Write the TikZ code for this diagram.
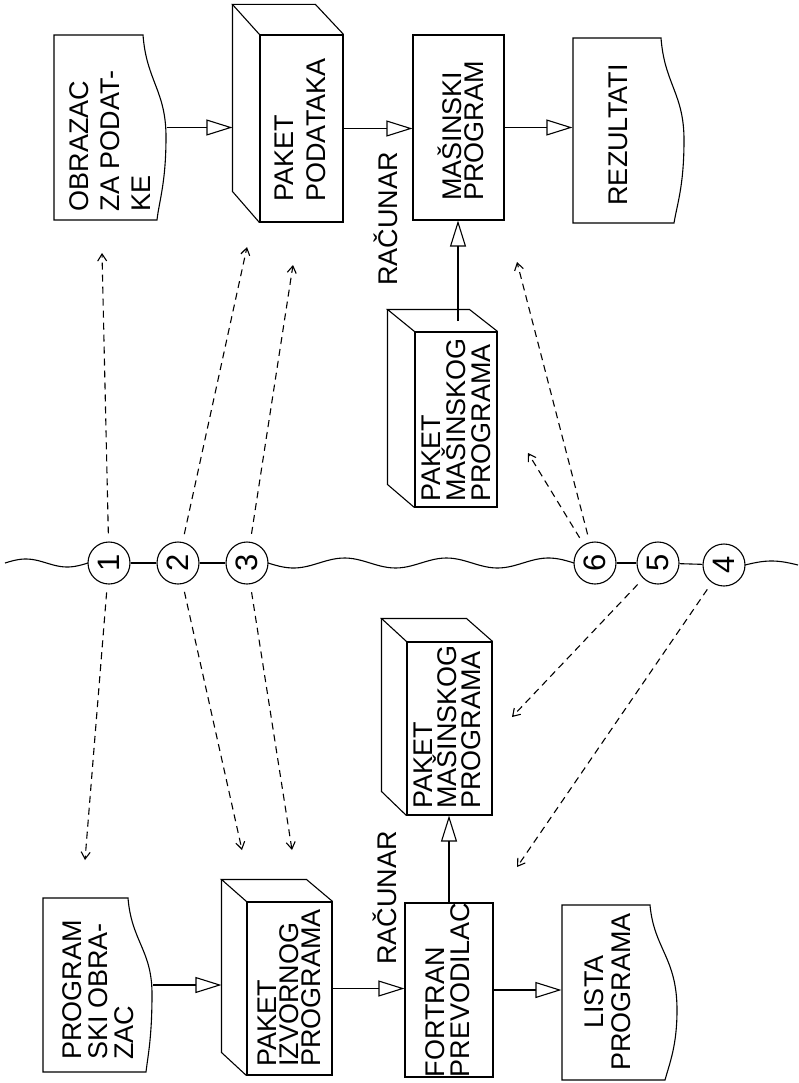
\documentclass[tikz,border=0pt]{standalone}
\usepackage{fontspec}
\setmainfont{Liberation Sans}
\usetikzlibrary{arrows.meta}
\begin{document}
\begin{tikzpicture}[x=1pt,y=-1pt,line width=1.1pt,
  frontbox/.style={draw, rectangle, inner sep=0},
  docbox/.style={rectangle, inner sep=0, draw=none},
  lab/.style={rotate=90, align=left, inner sep=0, font=\fontsize{27}{#1}\selectfont},
  lab/.default=25,
  num/.style={circle, draw, minimum size=42pt, inner sep=0, rotate=90, font=\fontsize{31}{31}\selectfont},
  flow/.style={-{Triangle[open,length=26pt,width=16pt]}},
  dasharr/.style={line width=1.1pt, dash pattern=on 7pt off 5pt, -{Straight Barb[length=7pt,width=9pt]}, shorten <=8pt},
]
\useasboundingbox (0,0) rectangle (798,1083);

% ---------- upper row ----------
\draw (54,35) -- (143,35) .. controls (146.5,81) and (166,90.5) .. (166,137) .. controls (166,183) and (159,201.5) .. (157,220) -- (54,220) -- cycle;
\node[docbox, minimum width=112pt, minimum height=185pt] (d1) at (110,127.5) {};
\node[lab=31] (t1) at (110,141) {OBRAZAC\\ZA PODAT-\\KE};

\node[frontbox, minimum width=83pt, minimum height=187pt] (b1) at (301.5,128.5) {};
\draw (b1.north west) -- ++(-27,-30) coordinate (b1c) -- ++(83,0) -- (b1.north east);
\draw (b1c) -- ++(0,187) -- (b1.south west);
\coordinate (b1L) at ([xshift=-27pt]b1.west);
\node[lab=32] (t2) at (300,130) {PAKET\\PODATAKA};

\node[frontbox, minimum width=91pt, minimum height=185pt] (mp) at (458.5,127.5) {};
\node[lab=22] (t3) at (461,131) {MAŠINSKI\\PROGRAM};

\draw (573,38) -- (661,38) .. controls (664.5,84) and (684,93.5) .. (684,140) .. controls (684,186) and (677,204.5) .. (674,223) -- (573,223) -- cycle;
\node[docbox, minimum width=111pt, minimum height=185pt] (d2) at (628.5,130.5) {};
\node[lab] (t4) at (618,135) {REZULTATI};

\node[lab] (r1) at (386,219) {RAČUNAR};

\node[frontbox, minimum width=82pt, minimum height=175pt] (b2) at (456,419.5) {};
\draw (b2.north west) -- ++(-27,-22) coordinate (b2c) -- ++(82,0) -- (b2.north east);
\draw (b2c) -- ++(0,175) -- (b2.south west);
\coordinate (b2t) at (458,321);
\node[lab=25] (t6) at (456,420) {PAKET\\MAŠINSKOG\\PROGRAMA};

\draw[flow] (d1.east) -- (d1.east -| b1L);
\draw[flow] (b1.east) -- (b1.east -| mp.west);
\draw[flow] (mp.east) -- (mp.east -| d2.west);
\draw[flow] (b2t) -- (b2t |- mp.south);

% ---------- lower row ----------
\draw (43,898) -- (128,898) .. controls (131.6,941.5) and (152,950) .. (152,994) .. controls (152,1037) and (148,1055) .. (146,1072) -- (43,1072) -- cycle;
\node[docbox, minimum width=109pt, minimum height=174pt] (d3) at (97.5,985) {};
\node[lab=26] (t8) at (98,990) {PROGRAM\\SKI OBRA-\\ZAC};

\node[frontbox, minimum width=85pt, minimum height=173pt] (b3) at (289.5,988.5) {};
\draw (b3.north west) -- ++(-25,-22) coordinate (b3c) -- ++(85,0) -- (b3.north east);
\draw (b3c) -- ++(0,173) -- (b3.south west);
\coordinate (b3L) at ([xshift=-25pt]b3.west);
\node[lab=22] (t9) at (289,988) {PAKET\\IZVORNOG\\PROGRAMA};

\node[frontbox, minimum width=88pt, minimum height=174pt] (fp) at (449,990) {};
\node[lab=25] (t10) at (448,990) {FORTRAN\\PREVODILAC};

\draw (562,905) -- (650,905) .. controls (654,949) and (677,957.5) .. (677,1010) .. controls (677,1045) and (670,1062) .. (665,1080) -- (562,1080) -- cycle;
\node[docbox, minimum width=115pt, minimum height=175pt] (d4) at (619.5,992.5) {};
\node[lab=27, align=center] (t11) at (608,992) {LISTA\\PROGRAMA};

\node[lab] (r2) at (385,898) {RAČUNAR};

\node[frontbox, minimum width=85pt, minimum height=173pt] (b4) at (449.5,728.5) {};
\draw (b4.north west) -- ++(-25,-23) coordinate (b4c) -- ++(85,0) -- (b4.north east);
\draw (b4c) -- ++(0,173) -- (b4.south west);
\node[lab=24] (t7) at (447,727) {PAKET\\MAŠINSKOG\\PROGRAMA};

\draw[flow] (d3.east) -- (d3.east -| b3L);
\draw[flow] (b3.east) -- (b3.east -| fp.west);
\draw[flow] (fp.east) -- (fp.east -| d4.west);
\draw[flow] (fp.north) -- (fp.north |- b4.south);

% ---------- dividing wavy line and circles ----------
\node[num] (c1) at (109,563) {1};
\node[num] (c2) at (178,563) {2};
\node[num] (c3) at (247,563) {3};
\node[num] (c6) at (595,563) {6};
\node[num] (c5) at (658,563) {5};
\node[num] (c4) at (724,565) {4};
\draw plot[domain=5:88, samples=40, smooth] (\x, {563 - 4*sin(4.337*(\x-5))});
\draw plot[domain=268:574, samples=80, smooth] (\x, {563 + 5*sin(3.529*(\x-268))});
\draw plot[domain=745:798, samples=30, smooth] (\x, {565 - 4*sin(3.396*(\x-745))});
\draw (c1) -- (c2);
\draw (c2) -- (c3);
\draw (c6) -- (c5);
\draw (c5) -- (c4);

% ---------- dashed arrows ----------
\coordinate (a1u) at (102,253);
\coordinate (a1d) at (85,860);
\coordinate (a2u) at (247,247);
\coordinate (a2d) at (242,850);
\coordinate (a3u) at (293,265);
\coordinate (a3d) at (292,850);
\coordinate (a6u) at (517,262);
\coordinate (a6v) at (528,453);
\coordinate (a5d) at (512,717);
\coordinate (a4d) at (517,867);
\draw[dasharr] (c1) -- (a1u);
\draw[dasharr] (c1) -- (a1d);
\draw[dasharr] (c2) -- (a2u);
\draw[dasharr] (c2) -- (a2d);
\draw[dasharr] (c3) -- (a3u);
\draw[dasharr] (c3) -- (a3d);
\draw[dasharr] (c6) -- (a6u);
\draw[dasharr] (c6) -- (a6v);
\draw[dasharr] (c5) -- (a5d);
\draw[dasharr] (c4) -- (a4d);
\end{tikzpicture}
\end{document}
